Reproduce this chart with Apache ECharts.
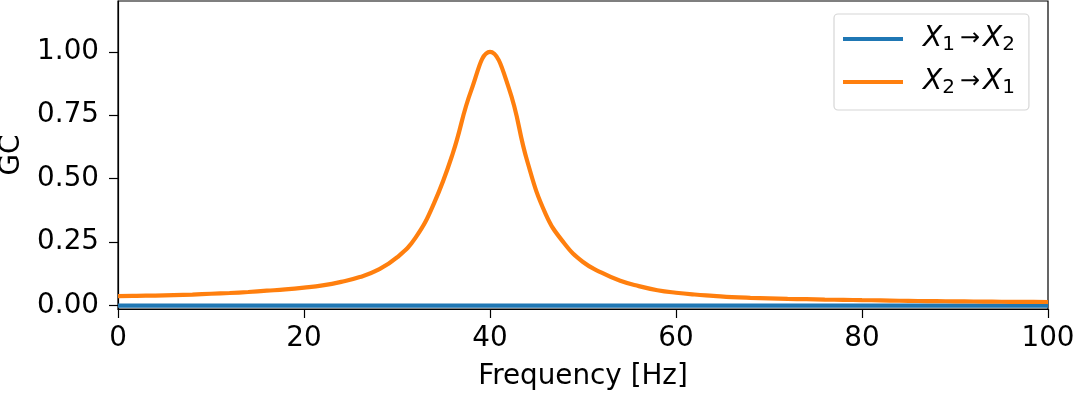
<!DOCTYPE html>
<html>
<head>
<meta charset="utf-8">
<script src="https://cdn.jsdelivr.net/npm/echarts@6/dist/echarts.min.js"></script>
<style>
    html, body { margin: 0; padding: 0; background: #fff; }
    #chart { width: 1074px; height: 394px; }
</style>
</head>
<body>
<div id="chart"></div>
<script>
// values, every 2 Hz
const freq = [0, 2, 4, 6, 8, 10, 12, 14, 16, 18, 20, 22, 24, 26, 28, 30, 32, 34, 36, 38, 40,
    42, 44, 46, 48, 50, 52, 54, 56, 58, 60, 62, 64, 66, 68, 70, 72, 74, 76, 78, 80,
    82, 84, 86, 88, 90, 92, 94, 96, 98, 100]
const gc21 = [0.038, 0.039, 0.040, 0.042, 0.044, 0.047, 0.050, 0.054, 0.059, 0.064, 0.071, 0.080, 0.094, 0.113, 0.142, 0.19, 0.268, 0.405, 0.6, 0.85, 1.0,
    0.86, 0.57, 0.36, 0.245, 0.172, 0.13, 0.098, 0.077, 0.061, 0.051, 0.044, 0.039, 0.034, 0.031, 0.029, 0.027, 0.0255, 0.024, 0.023, 0.022,
    0.021, 0.0195, 0.0185, 0.018, 0.017, 0.0165, 0.016, 0.0152, 0.0148, 0.0145]
const gc12 = freq.map(() => 0)
const xTicks = [0, 20, 40, 60, 80, 100]
const yTicks = [0, 0.25, 0.5, 0.75, 1.0]

const font = 'DejaVu Sans'
const myChart = echarts.init(document.getElementById('chart'))

const option = {
    animation: false,
    textStyle: {fontFamily: font},
    grid: {
        left: 118, right: 26, top: 1, bottom: 85,
        outerBoundsMode: 'none',
        containLabel: false,
        show: true,
        borderColor: '#000',
        borderWidth: 1.2
    },
    legend: {
        orient: 'vertical',
        left: 834,
        top: 14,
        padding: [9, 14, 12, 9],
        itemGap: 11,
        itemWidth: 60,
        itemHeight: 4,
        icon: 'rect',
        backgroundColor: 'rgba(255,255,255,0.8)',
        borderColor: '#d6d6d6',
        borderWidth: 1.2,
        borderRadius: 4,
        formatter: function (name) {
            return name === 'a'
                ? '{i|X}{s|1}{a|→}{i|X}{s|2}'
                : '{i|X}{s|2}{a|→}{i|X}{s|1}'
        },
        textStyle: {
            padding: [0, 0, 0, 15],
            rich: {
                i: {fontFamily: font, fontStyle: 'italic', fontSize: 28, lineHeight: 30, color: '#000'},
                s: {fontFamily: font, fontSize: 20, lineHeight: 30, color: '#000', padding: [12, 0, 0, 0]},
                a: {fontFamily: font, fontSize: 24, lineHeight: 30, color: '#000', padding: [0, 3, 0, 5]}
            }
        },
        data: ['a', 'b']
    },
    xAxis: {
        type: 'value',
        min: 0,
        max: 100,
        interval: 20,
        name: 'Frequency [Hz]',
        nameLocation: 'middle',
        nameGap: 54,
        nameTextStyle: {fontSize: 27.8, color: '#000', fontFamily: font},
        axisLine: {show: true, onZero: false, lineStyle: {color: '#000', width: 1.2}},
        axisTick: {show: true, length: 9, lineStyle: {color: '#000', width: 1.2}},
        axisLabel: {fontSize: 27.8, color: '#000', margin: 16, fontFamily: font,
            customValues: xTicks},
        splitLine: {show: false}
    },
    yAxis: {
        type: 'value',
        min: -0.013,
        max: 1.2,
        name: 'GC',
        nameLocation: 'middle',
        nameGap: 87,
        nameTextStyle: {fontSize: 27.8, color: '#000', fontFamily: font},
        axisLine: {show: true, onZero: false, lineStyle: {color: '#000', width: 1.2}},
        axisTick: {show: true, length: 9, lineStyle: {color: '#000', width: 1.2},
            customValues: yTicks},
        axisLabel: {fontSize: 27.8, color: '#000', margin: 19, fontFamily: font,
            customValues: yTicks,
            formatter: v => v.toFixed(2)},
        splitLine: {show: false}
    },
    series: [
        {
            name: 'a',
            type: 'line',
            data: freq.map((f, i) => [f, gc12[i]]),
            showSymbol: false,
            color: '#1f77b4',
            lineStyle: {width: 4.2, color: '#1f77b4'}
        },
        {
            name: 'b',
            type: 'line',
            data: freq.map((f, i) => [f, gc21[i]]),
            showSymbol: false,
            smooth: 0.45,
            color: '#ff7f0e',
            lineStyle: {width: 4.2, color: '#ff7f0e'}
        }
    ]
}
myChart.setOption(option)
</script>
</body>
</html>
